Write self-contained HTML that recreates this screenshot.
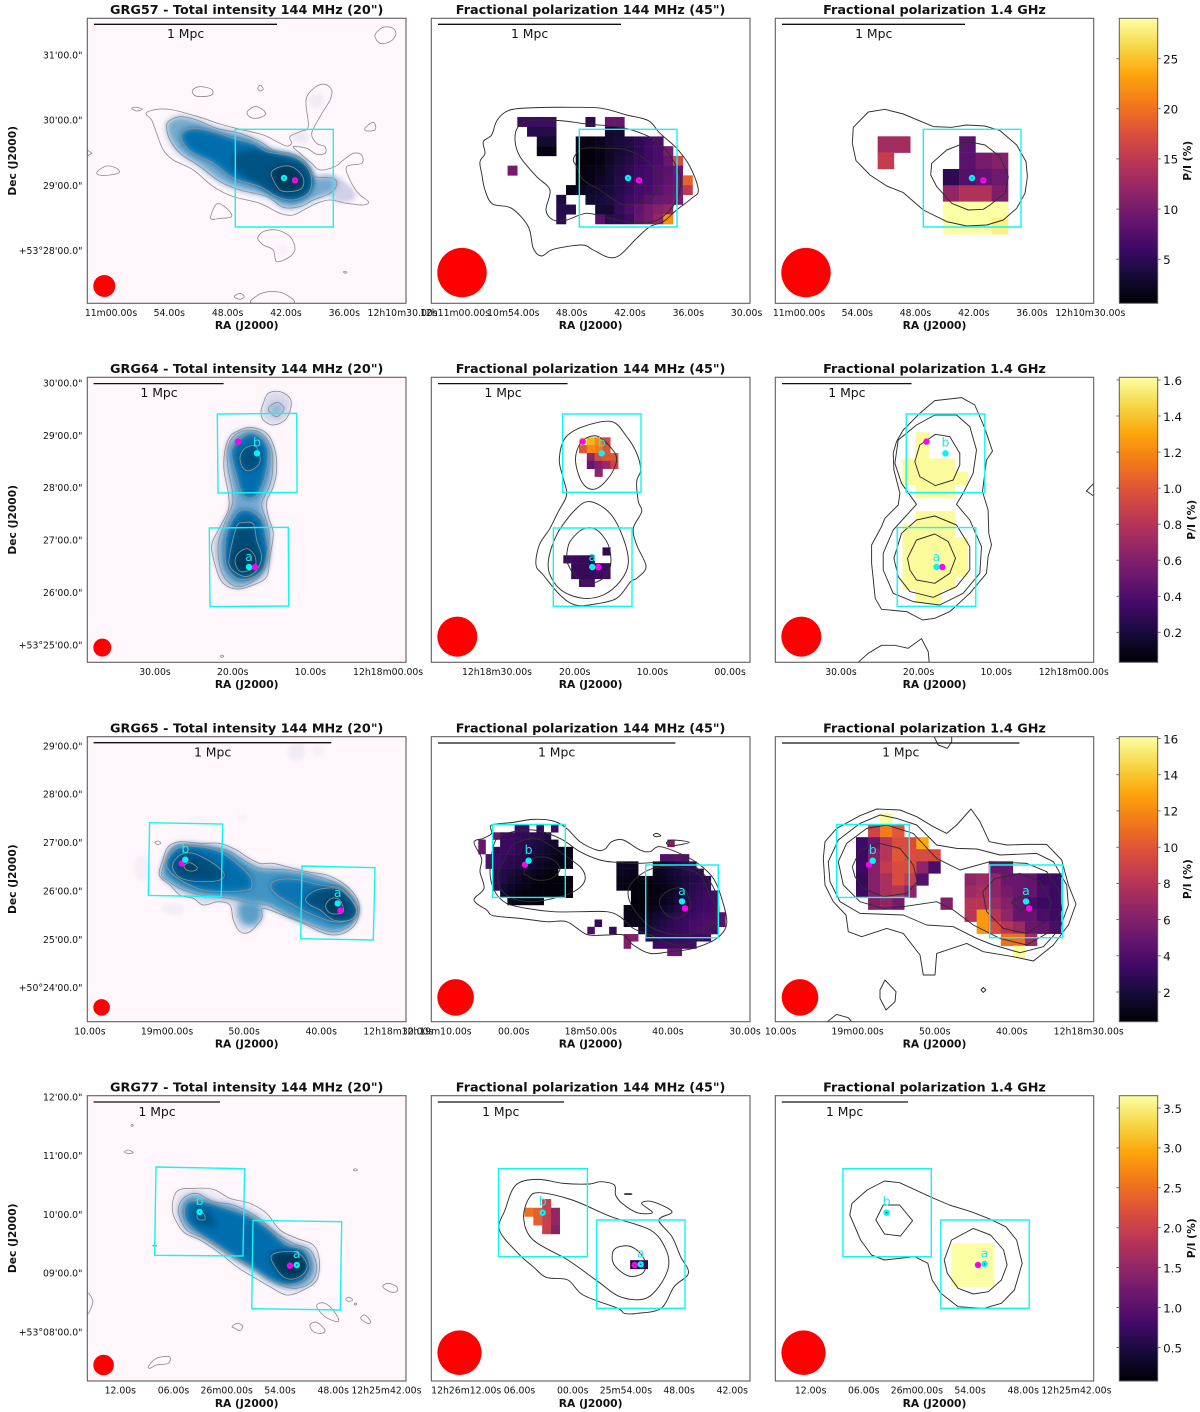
<!DOCTYPE html>
<html lang="en">
<head>
<meta charset="utf-8">
<title>GRG polarization maps</title>
<style>
html,body{margin:0;padding:0;background:#fff}
svg{display:block}
text{font-family:"DejaVu Sans","Liberation Sans",sans-serif;fill:#111}
</style>
</head>
<body>
<svg id="figure" xmlns="http://www.w3.org/2000/svg" width="1200" height="1412" viewBox="0 0 1200 1412">
<defs>
<filter id="soft2" x="-40%" y="-40%" width="180%" height="180%"><feGaussianBlur stdDeviation="2"/></filter>
<filter id="soft3" x="-40%" y="-40%" width="180%" height="180%"><feGaussianBlur stdDeviation="3.2"/></filter>
<filter id="soft4" x="-40%" y="-40%" width="180%" height="180%"><feGaussianBlur stdDeviation="3.2"/></filter>
</defs>
</svg>
<script>
/* ---------- tick data ---------- */
const raTicks57 = [60,54,48,42,36,30];
const raLabels57Outer = ['11m00.00s','54.00s','48.00s','42.00s','36.00s','12h10m30.00s'];
const raLabels57Mid = ['12h11m00.00s','10m54.00s','48.00s','42.00s','36.00s','30.00s'];
const decTicks57 = [31,30,29,28];
const decLabels57 = ['31\'00.0"','30\'00.0"','29\'00.0"','+53°28\'00.0"'];
const cbTicks57 = [5,10,15,20,25];
const cbLabels57 = ['5','10','15','20','25'];

const raTicks64 = [30,20,10,0];
const raLabels64Outer = ['30.00s','20.00s','10.00s','12h18m00.00s'];
const raLabels64Mid = ['12h18m30.00s','20.00s','10.00s','00.00s'];
const decTicks64 = [30,29,28,27,26,25];
const decLabels64 = ['30\'00.0"','29\'00.0"','28\'00.0"','27\'00.0"','26\'00.0"','+53°25\'00.0"'];
const cbTicks64 = [0.2,0.4,0.6,0.8,1.0,1.2,1.4,1.6];
const cbLabels64 = ['0.2','0.4','0.6','0.8','1.0','1.2','1.4','1.6'];

const raTicks65 = [70,60,50,40,30];
const raLabels65Outer = ['10.00s','19m00.00s','50.00s','40.00s','12h18m30.00s'];
const raLabels65Mid = ['12h19m10.00s','00.00s','18m50.00s','40.00s','30.00s'];
const decTicks65 = [29,28,27,26,25,24];
const decLabels65 = ['29\'00.0"','28\'00.0"','27\'00.0"','26\'00.0"','25\'00.0"','+50°24\'00.0"'];
const cbTicks65 = [2,4,6,8,10,12,14,16];
const cbLabels65 = ['2','4','6','8','10','12','14','16'];

const raTicks77 = [72,66,60,54,48,42];
const raLabels77Outer = ['12.00s','06.00s','26m00.00s','54.00s','48.00s','12h25m42.00s'];
const raLabels77Mid = ['12h26m12.00s','06.00s','00.00s','25m54.00s','48.00s','42.00s'];
const decTicks77 = [12,11,10,9,8];
const decLabels77 = ['12\'00.0"','11\'00.0"','10\'00.0"','09\'00.0"','+53°08\'00.0"'];
const cbTicks77 = [0.5,1.0,1.5,2.0,2.5,3.0,3.5];
const cbLabels77 = ['0.5','1.0','1.5','2.0','2.5','3.0','3.5'];

/* ---------- contours: [fill level (0 = line only), draw line, map-grid vertices u,v,...] ---------- */
const grg57TotalContours = [
[0.1,0,[930,290,965,280,965,320,935,320]],
[0.12,0,[880,400,920,395,920,425,885,425]],
[0.25,0,[960,530,1010,530,1060,570,1060,600,1000,600]],
[0.06,0,[835,740,860,740,860,760,835,760]],
[0,1,[438,340,470,328,520,330,600,352,660,372,720,388,790,405,830,425,860,438,875,430,870,410,900,395,925,380,918,300,945,262,975,253,995,270,990,300,960,350,935,400,950,430,975,440,975,460,950,463,920,445,880,440,900,460,935,490,960,510,1005,500,1030,480,1060,460,1085,465,1085,490,1040,500,1050,540,1075,580,1105,605,1090,615,1040,610,990,600,950,610,920,625,880,645,840,640,780,610,700,590,640,560,580,510,520,480,490,450,470,400,455,360]],
[0.5,1,[505,365,540,350,590,360,650,385,720,400,780,425,820,450,870,460,905,475,930,505,945,530,1000,535,1010,555,990,580,940,600,900,620,850,622,800,590,720,570,660,545,600,500,540,460,510,420,500,385]],
[0.76,1,[545,400,580,385,640,395,700,415,760,430,800,455,880,470,920,500,935,540,925,580,880,600,830,590,780,560,700,535,640,490,580,460,550,430]],
[0.9,0,[700,470,760,450,850,470,920,500,935,560,890,595,830,585,760,545,710,510]],
[1,1,[815,515,850,498,885,505,910,535,905,565,870,575,840,570,820,540]],
[0,1,[578,270,600,260,635,268,635,285,600,290,582,285]],
[0,1,[773,265,782,256,790,268,780,273]],
[0,1,[395,325,410,322,427,328,410,333]],
[0,1,[742,335,765,320,790,330,795,345,770,355,748,350]],
[0,1,[1095,385,1115,368,1125,372,1125,390,1100,393]],
[0,1,[1125,105,1150,82,1180,85,1187,105,1170,125,1140,130]],
[0,1,[262,450,276,460,262,468]],
[0,1,[292,515,320,498,350,505,357,518,330,525,297,525]],
[0,1,[632,655,650,612,680,625,695,650,660,655]],
[0,1,[773,715,790,695,830,690,870,710,885,745,870,770,830,785,820,750,790,735]],
[0,1,[703,890,720,880,733,890,720,898]],
[0,1,[757,910,775,885,810,875,850,880,880,910]],
[0,1,[1030,816,1036,815,1041,817,1036,820]]
];
const grg57Lofar45Contours = [
[0,1,[180,485,195,460,190,425,215,405,232,360,270,330,350,323,460,322,545,325,620,345,685,362,720,400,770,445,810,500,835,570,815,595,770,630,730,665,690,680,650,715,600,765,565,772,520,750,485,735,400,748,365,768,340,745,325,680,275,625,218,612,195,570,185,520]],
[0,1,[285,420,295,380,330,362,420,362,500,372,590,380,650,395,720,430,770,500,782,545,770,600,740,640,700,665,640,668,570,655,500,640,440,660,400,660,378,630,390,570,350,530,300,470]],
[0,1,[470,460,490,445,560,445,620,450,680,480,710,525,712,560,695,595,650,610,600,610,540,570,490,540,470,500,460,480]]
];
const grg57Hires14Contours = [
[0,1,[280,382,325,336,375,328,430,342,520,380,575,382,620,375,675,378,720,392,770,435,798,485,802,530,795,580,770,625,730,660,680,675,620,678,560,665,490,630,430,578,380,558,330,525,288,482,277,430]],
[0,1,[515,490,560,450,625,425,675,435,720,470,745,530,735,580,690,615,670,628,625,630,575,610,530,560,512,525]]
];
const grg64TotalContours = [
[0.2,1,[470,185,510,172,560,190,585,240,590,300,580,350,560,395,565,440,580,490,570,560,560,620,520,645,470,657,430,640,410,600,395,530,415,480,445,420,445,370,432,300,435,240,450,200]],
[0.5,1,[465,195,510,180,550,195,575,240,578,300,568,350,545,400,555,440,568,490,560,560,545,610,510,640,470,650,435,625,418,580,415,520,430,470,455,410,458,370,445,300,442,240]],
[0.76,1,[462,225,510,190,550,210,565,250,555,320,535,370,510,385,485,370,470,320,455,260]],
[0.78,1,[440,490,470,430,505,420,545,450,558,500,565,550,550,600,510,625,470,625,440,590,435,540]],
[0.92,1,[480,262,495,235,525,228,540,260,535,285,510,302,490,295]],
[0.93,1,[448,560,470,470,490,458,520,462,530,510,545,560,530,600,500,620,470,610,450,590]],
[1,1,[465,570,480,545,505,537,525,560,525,590,495,605,475,600]],
[0.2,1,[550,100,565,70,600,65,630,85,632,115,615,150,580,165,550,150,543,125]],
[0.42,1,[565,118,590,97,612,115,590,140]],
[0,1,[422,857,428,856,431,860,424,862]]
];
const grg64Lofar45Contours = [
[0,1,[418,285,435,220,490,185,575,170,620,215,650,265,662,315,650,350,655,410,665,440,640,490,650,540,678,605,650,640,632,650,590,700,520,718,465,720,420,690,370,630,348,600,358,540,390,490,415,440,440,390,430,340]],
[0,1,[385,590,410,510,465,435,510,410,570,445,610,520,625,595,600,650,550,690,490,700,430,680,395,640]],
[0,1,[440,575,450,530,490,492,530,495,565,540,572,600,550,640,505,655,465,630,445,600]],
[0,1,[470,260,490,225,530,213,570,245,590,280,575,325,540,365,510,372,485,350,468,300]]
];
const grg64Hires14Contours = [
[0,1,[380,215,400,180,450,130,495,92,575,83,615,105,645,175,668,243,650,270,638,365,655,420,657,490,665,525,655,560,650,610,600,670,540,725,495,745,458,750,410,725,335,718,316,685,305,580,305,525,335,470,345,445,385,405,390,370,372,300,370,250]],
[0,1,[440,403,395,340,375,280,385,210,440,165,495,135,560,135,600,170,620,240,610,310,580,370,560,403,600,450,635,530,630,610,580,670,510,705,430,695,370,670,340,600,340,550,370,480]],
[0,1,[372,565,395,490,440,450,495,438,560,465,600,530,600,600,560,650,490,682,420,665,385,620]],
[0,1,[413,565,440,510,495,492,535,515,557,565,540,610,495,640,440,630,420,600]],
[0,1,[435,275,450,225,497,193,540,200,570,250,570,285,550,330,497,347,450,320]],
[0,1,[972,340,950,363,972,378]],
[0,1,[265,877,295,850,335,826,375,826,415,835,455,806,475,845,478,877]]
];
const grg65TotalContours = [
[0.1,0,[630,30,670,30,670,70,630,70]],
[0.06,0,[700,35,730,35,730,60,700,60]],
[0.06,0,[165,370,205,370,205,430,170,430]],
[0.08,0,[250,510,305,510,305,540,250,530]],
[0.06,0,[480,240,500,240,500,255,480,255]],
[0.05,0,[330,250,380,250,380,262,330,262]],
[0.18,1,[238,420,250,370,265,335,300,320,360,325,420,325,470,345,500,365,540,385,580,385,640,400,680,410,740,420,790,445,825,480,838,515,830,560,800,590,760,600,720,590,680,570,620,545,550,520,545,550,510,590,480,590,460,555,450,510,415,500,370,510,340,490,300,480,270,450]],
[0.55,0,[475,510,510,500,545,515,535,565,500,570,480,555]],
[0.6,1,[245,420,255,380,275,340,310,328,380,335,440,345,490,375,540,400,620,405,700,420,780,450,815,485,830,515,820,560,790,585,750,590,690,570,630,545,560,510,510,505,450,490,360,480,300,460,260,435]],
[0.76,1,[260,380,285,345,310,335,360,335,420,350,470,385,510,425,515,455,500,465,440,470,370,465,310,440,270,410]],
[0.74,1,[572,450,600,433,660,435,720,450,780,460,820,500,830,530,810,555,760,560,700,540,640,510,590,480]],
[0.92,1,[278,390,300,360,340,355,400,385,432,415,420,435,370,440,320,435,290,420]],
[0.92,1,[677,490,710,465,770,460,810,490,830,530,810,555,760,555,720,525,690,510]],
[1,1,[312,392,330,383,352,398,340,408,320,405]],
[1,1,[737,510,755,490,780,495,790,530,765,537,745,530]],
[0,1,[225,322,235,318,243,325,232,328]]
];
const grg65Lofar45Contours = [
[0,1,[162,352,190,340,215,325,215,300,280,292,340,283,400,288,440,310,480,350,530,375,555,372,575,350,610,345,660,375,690,380,720,365,790,390,840,420,880,460,905,520,920,595,890,640,820,670,750,680,690,685,640,660,610,630,560,630,500,628,440,590,380,590,300,580,220,572,200,555,162,525,192,490,180,440,185,400]],
[0,1,[225,350,260,325,340,315,420,340,480,380,540,405,590,412,650,415,720,410,770,395,820,420,870,470,895,530,890,600,850,640,770,660,690,630,640,610,600,575,560,560,480,560,400,560,320,550,260,535,225,500,210,440]],
[0,1,[250,410,280,360,340,340,390,360,440,395,485,430,495,465,470,495,420,515,340,530,280,520,240,490,235,440]],
[0,1,[312,440,340,400,390,400,420,430,395,460,350,465,320,450]],
[0,1,[625,495,640,550,700,610,790,630,860,610,890,560,865,500,840,450,790,430,720,425,660,450]],
[0,1,[718,530,745,497,790,490,810,530,810,550,780,578,740,570]],
[0,1,[700,330,710,325,722,332,708,335]],
[0,1,[740,352,760,345,808,352,760,362,745,360]]
];
const grg65Hires14Contours = [
[0,1,[195,350,230,310,300,272,350,252,420,255,470,275,520,305,560,325,590,300,633,252,660,290,688,350,740,360,800,358,860,358,905,405,925,480,948,537,925,600,880,660,820,708,760,695,670,680,620,655,530,685,525,750,490,750,480,690,430,625,380,610,305,635,265,620,258,570,220,530,195,480,190,400]],
[0,1,[205,410,235,345,300,295,360,270,410,280,470,300,530,360,590,370,650,372,720,390,830,385,880,410,920,480,925,540,900,610,850,665,780,683,700,660,650,640,580,605,500,600,430,570,300,565,240,530,210,470]],
[0,1,[235,410,260,355,320,310,380,300,460,325,530,400,600,435,690,410,800,415,860,440,900,500,905,555,870,620,800,660,720,640,640,600,580,555,530,530,430,545,370,550,300,530,250,480]],
[0,1,[277,425,300,375,360,355,420,370,460,420,472,470,440,505,370,515,310,490,285,455]],
[0,1,[668,500,705,460,780,445,840,470,875,535,855,590,800,625,730,610,680,560]],
[0,1,[755,533,780,512,805,538,783,558]],
[0,1,[375,765,408,800,405,830,378,855,360,820,360,795]],
[0,1,[670,787,678,795,670,802,663,795]],
[0,1,[522,35,535,60,562,70,575,50,575,35]],
[0,1,[202,890,230,868,265,878,275,890]]
];
const grg77TotalContours = [
[0.1,1,[278,365,290,305,340,295,400,298,450,325,510,340,560,370,600,420,650,445,700,465,718,510,710,570,670,600,620,615,570,590,510,555,470,530,420,490,360,450,310,425]],
[0.48,1,[295,365,310,325,350,310,400,335,460,345,530,380,590,430,640,460,690,480,710,530,695,575,650,595,600,585,540,550,490,520,440,490,370,445,320,420]],
[0.76,1,[313,365,325,335,375,335,440,355,510,380,570,420,620,465,670,480,690,530,670,570,620,585,570,570,520,535,470,505,410,465,350,425,320,395]],
[0.88,0,[340,355,380,360,410,400,380,410,345,395]],
[1,1,[573,500,595,487,650,487,680,520,672,550,640,567,610,560,585,530]],
[0.88,1,[352,372,370,370,375,388,355,388]],
[0,1,[133,186,145,180,160,188,145,190]],
[0,1,[820,240,826,236,832,240,826,243]],
[0,1,[908,590,925,580,950,590,950,605,930,605]],
[0,1,[797,627,808,622,818,630,806,634]],
[0,1,[842,685,855,675,872,695,862,700]],
[0,1,[710,650,725,638,750,650,775,685,770,695,735,680]],
[0,1,[690,705,710,697,735,720,725,730,700,725]],
[0,1,[456,710,472,700,488,708,480,722,465,715]],
[0,1,[206,828,230,805,268,800,265,820,230,825,210,835]],
[0,1,[22,610,38,630,35,650,22,670]],
[0,1,[153,106,156,103,160,106,156,109]],
[0,1,[822,642,826,639,830,642,826,645]],
[0,1,[218,467,224,465,230,467,224,469]]
];
const grg77Lofar45Contours = [
[0,1,[172,420,185,360,210,285,260,268,320,280,380,282,405,275,437,285,440,315,455,340,490,368,525,368,500,340,525,335,570,365,540,390,570,440,590,500,608,550,575,590,545,655,490,670,460,670,445,655,365,615,330,570,280,562,250,530,215,490]],
[0,1,[228,385,240,325,265,308,340,330,430,380,520,420,555,475,562,530,540,590,505,627,450,620,400,575,330,510,250,450]],
[0,1,[432,500,440,475,470,468,497,490,510,525,500,552,470,558,440,530]],
[0,1,[462,311,476,311,476,313,462,313]]
];
const grg77Hires14Contours = [
[0,1,[980,375,985,340,1020,300,1060,273,1095,278,1165,320,1210,345,1260,365,1300,385,1340,410,1365,450,1378,520,1360,600,1330,640,1290,655,1230,650,1190,610,1170,570,1160,520,1130,500,1060,510,1030,495,1005,450]],
[0,1,[1198,510,1215,450,1265,415,1305,435,1335,480,1343,525,1330,570,1300,605,1265,612,1230,595,1205,550]],
[0,1,[1040,390,1057,345,1095,345,1125,392,1097,438,1060,432]]
];

/* ---------- fractional polarization cells: [grid row, first grid column, P/I values in %] ---------- */
const grg57Lofar45Cells = [
[0,0,[6,6,6,6]],[0,7,[5]],[0,9,[9,9]],
[1,1,[4.5,4.5,4.5]],[1,9,[3,3]],
[2,2,[3,3]],[2,6,[1.5,1.5,2,3,3.5,4,5,6,7]],
[3,2,[1.5,1.5]],[3,6,[1,1,1.5,2.5,3,4,5,6,7,10]],
[4,6,[1,1,1.5,2.5,3.5,4.5,5.5,6,7,9,17]],
[5,-1,[10]],[5,6,[1,1.5,2,3,4,5,6,6.5,7.5,8,9]],
[6,6,[1,1.5,2.5,3,4.5,5.5,6,6.5,7.5,8.5,9]],[6,17,[19]],
[7,5,[1.5,2,2.5,3,3.5,4.5,5.5,6.5,7,8,9,9.5]],[7,17,[15]],
[8,4,[4]],[8,7,[3,3.5,4,5,6,7,8,9,9.5,10]],
[9,4,[4.5,4.5]],[9,8,[3,3,5.5,7,8.5,10,11,12]],
[10,4,[5]],[10,8,[8,5,5,6,9,10,12,22]]
];
const grg57Hires14Cells = [
[0,0,[13,13]],[0,5,[8]],
[1,0,[15.5]],[1,5,[8,10,11]],
[2,4,[5,7.5,8.5,9.5]],
[3,4,[12,14,14,10.5]],
[4,4,[29,29,29,29]],
[5,4,[29,29,29,28]]
];
const grg64Lofar45Cells = [
[0,2,[1.55,1.35,1.2,0.95]],
[1,2,[1.0,1.2,1.15,1.0]],
[2,3,[0.65,0.95,1.0,1.0]],
[3,3,[0.5,0.6,0.7,0.9]],
[4,4,[0.65]],
[14,5,[0.28]],
[15,0,[0.33,0.32,0.3,0.3]],
[16,1,[0.32,0.3,0.28,0.3,0.33]],
[17,1,[0.32,0.3,0.3,0.32,0.35]],
[18,2,[0.38,0.38]]
];
const grg64Hires14Cells = [
[0,1,[1.6]],[1,1,[1.6]],
[2,0,[1.6,1.6,1.6,1.6]],
[3,0,[1.6,1.6,1.6,1.6,1.6]],
[4,1,[1.6,1.6,1.6]],
[6,1,[1.6,1.6,1.6]],
[7,0,[1.6,1.6,1.6,1.6]],
[8,0,[1.6,1.6,1.6,1.6,1.6]],
[9,0,[1.6,1.6,1.6,1.6,1.6]],
[10,0,[1.6,1.6,1.6,1.6,1.6]],
[11,0,[1.6,1.6,1.6,1.6]],
[12,1,[1.6,1.6]]
];
const grg65Lofar45Cells = [
[0,5,[3.5,3.5]],[0,8,[3]],[0,10,[3.5]],
[1,2,[5]],[1,3,[3.2,3.2,3,2.8,2.8,2.6,2.4]],
[2,0,[5]],[2,3,[3.2,3.2,2.8,2.6,2.4,2,1.8,1.6]],[2,26,[6]],
[3,0,[5]],[3,2,[3,3.2,3.2,2.8,2.4,2.2,1.9,1.6,1.3,1.1,0.9]],
[4,1,[4,3.4,3,2.8,2.6,2.3,1.9,1.6,1.4,1.1,0.9,0.9]],[4,25,[4.2,4.2,4.5,4.2]],
[5,1,[4,3.4,2.8,2.6,2.3,1.9,1.6,1.4,1.1,0.9,0.8,0.8]],[5,19,[1.3,1.2,1.2]],[5,24,[1.3,1.7,2,2.4,2.8,2.8]],
[6,2,[2.8,2.4,2.1,1.8,1.5,1.2,1,0.8,0.7]],[6,19,[1.2,1.1,1.1]],[6,24,[1.1,1.3,1.7,2,2.4,2.8,2.8]],
[7,2,[2.8,2.3,1.8,1.5,1.1,0.9,0.7,0.6,0.6,0.6,0.6]],[7,19,[0.9,0.9,0.7,0.7,0.7,0.9,1.1,1.4,1.7,2,2.4,2.6,2.8]],
[8,2,[2.8,1.8,1.4,1.1,0.9,0.7,0.6,0.6,0.6,0.6,0.6]],[8,19,[0.9,0.8,0.6,0.6,0.6,0.8,0.9,1.2,1.7,2.2,2.6,2.8,3]],
[9,3,[1.6,1.2,0.9,0.7,0.6,0.6,0.6,0.6,0.6,0.6]],[9,21,[0.6,0.6,0.6,0.8,1,1.3,1.8,2.4,2.8,3,3.3,3.5]],
[10,4,[1.1,0.9,0.8,0.7,0.6]],[10,21,[0.6,0.6,0.7,0.9,1.1,1.4,2,2.5,2.9,3.2,3.4,3.6]],
[11,20,[0.9,0.7,0.7,0.9,1.1,1.4,1.8,2.4,2.8,3,3.3,3.5,3.7]],
[12,20,[1,0.9,0.9,1.3,1.7,2,2.4,2.8,3.2,3.4,3.6,3.7,3.8,4.5]],
[13,16,[3]],[13,20,[1.1,1,1.1,1.6,2,2.4,2.8,3,3.2,3.6,3.8,4,4,4.5]],
[14,15,[4]],[14,18,[3]],[14,22,[1.7,2,2.4,2.6,2.9,3,3.3,3.7,4,4,3.7]],
[15,20,[6,6]],[15,23,[2.4,2.6,2.9,2.9,3,3.2,3.3,3.3,3.3]],
[16,20,[6]],[16,24,[3.4,3.4,3.4,3.4,3.4,3.4]],
[17,26,[5,5]]
];
const grg65Hires14Cells = [
[0,2,[16]],
[1,1,[9,11.5,10]],
[2,0,[3.3,5,8,9.5,9.5,13]],
[3,0,[3.3,6,8,10,9.5,9.5,9.5]],
[4,0,[3.3,6,8.5,9.5,9.5,6.5,3.8]],[4,11,[5,5]],
[5,0,[3,6,7.5,9.5,8.5,4.2]],[5,9,[6.5,7,6.5,5,5,4.8,3.3,3.3]],
[6,0,[3.3,6,7.5,8,6.5]],[6,9,[7,7.5,6.5,5.5,5,4.8,3.8,3.3]],
[7,1,[6,6.5,5.5]],[7,7,[6]],[7,9,[8,8,7,6,4.8,3.8,3.3,3.3]],
[8,9,[8,12.5,8,6.5,4.8,4.8,3.8,3.3]],
[9,10,[12.5,9.5,8,7,5,4.8,3.8]],
[10,12,[11,11,7]],
[11,13,[16]]
];
const grg77Lofar45Cells = [
[0,2,[2.0]],
[1,0,[2.5,2.35,2.0,1.5]],
[2,1,[2.35,2.0,1.5]],
[3,2,[2.0,1.4]],
[7,12,[0.5,0.6]]
];
const grg77Hires14Cells = [
[0,0,[3.65]]
];

/* ---------- lobe boxes (four corners in map-grid units) ---------- */
const grg57Boxes = [[706,388,1000,388,1000,681,706,681]];
const grg57BoxesL = [[478,388,771,388,771,681,478,681]];
const grg57BoxesH = [[490,388,783,388,783,681,490,681]];
const grg64BoxesI = [[412,132,650,130,651,367,414,369],[388,474,625,472,626,708,390,710]];
const grg64BoxesL = [[428,147,663,147,663,382,428,382],[400,489,636,489,636,724,400,724]];
const grg64BoxesH = [[409,132,645,132,645,368,409,368],[382,473,618,473,618,709,382,709]];
const grg65BoxesI = [[209,263,428,267,424,485,205,481],[666,393,885,398,880,615,662,611]];
const grg65BoxesL = [[218,298,436,298,436,517,218,517],[677,420,895,420,895,638,677,638]];
const grg65BoxesH = [[230,298,448,298,448,517,230,517],[689,420,908,420,908,638,689,638]];
const grg77BoxesI = [[228,231,494,236,489,498,224,496],[519,391,785,395,781,660,515,656]];
const grg77BoxesL = [[170,236,375,236,375,500,170,500],[396,390,600,390,600,655,396,655]];
const grg77BoxesH = [[964,236,1168,236,1168,500,964,500],[1190,390,1394,390,1394,655,1190,655]];

/* ---------- optical hosts: [label, cyan u, cyan v, magenta u, magenta v, label u, label v] ---------- */
const grg57Hosts = [['',852,534,885,541,0,0]];
const grg57HostsL = [['',624,534,657,541,0,0]];
const grg57HostsH = [['',636,534,670,541,0,0]];
const grg64HostsI = [['b',531,250,474,215,531,217],['a',507,591,525,591,507,560]];
const grg64HostsL = [['b',545,265,488,230,545,232],['a',517,606,535,606,517,575]];
const grg64HostsH = [['b',527,250,470,215,527,217],['a',500,591,517,591,500,560]];
const grg65HostsI = [['b',316,374,305,385,316,342],['a',773,505,781,526,773,473]];
const grg65HostsL = [['b',326,407,315,419,326,375],['a',786,529,795,550,786,497]];
const grg65HostsH = [['b',338,407,327,419,338,375],['a',798,529,807,550,798,497]];
const grg77HostsI = [['b',359,366,null,null,359,333],['a',650,525,630,527,650,492]];
const grg77HostsL = [['b',272,368,null,null,272,334],['a',498,523,484,525,498,490]];
const grg77HostsH = [['b',1065,368,null,null,1065,334],['a',1291,522,1276,525,1291,490]];

/* ---------- colour maps ---------- */
const infernoStops = ['#000004','#160b39','#420a68','#6a176e','#932667','#bc3754','#dd513a','#f37819','#fca50a','#f6d746','#fcffa4'];
const pubuStops = ['#fff7fb','#ece7f2','#d0d1e6','#a6bddb','#74a9cf','#3690c0','#0570b0','#045a8d','#023858'];
function rgb(h){return [parseInt(h.substr(1,2),16),parseInt(h.substr(3,2),16),parseInt(h.substr(5,2),16)];}
function colormap(stops,t){
  t=Math.max(0,Math.min(1,t));
  const p=t*(stops.length-1), i=Math.min(stops.length-2,Math.floor(p)), f=p-i;
  const a=rgb(stops[i]), b=rgb(stops[i+1]);
  return 'rgb('+[0,1,2].map(k=>Math.round(a[k]+(b[k]-a[k])*f)).join(',')+')';
}

/* ---------- layout ---------- */
const columnEdges = [[87.3,406],[431.3,750],[775.3,1093.7]];
const colorbarEdges = [1119.3,1157.7];
const rowEdges = [[18.3,303.3],[377.3,662.3],[736.7,1021.7],[1095.7,1381]];

const figureRows = [
 {name:'grg57', title:'GRG57 - Total intensity 144 MHz (20")', decRange:[31.563,27.194], decTicks:decTicks57, decLabels:decLabels57,
  cbRange:[0.6,29.03], cbTicks:cbTicks57, cbLabels:cbLabels57, cbTitleX:1191, pinned:true, raTicks:raTicks57,
  panels:[
   {kind:'i', u:[262,1218], v:[55,910], ra:[62.44,29.65], raLabels:raLabels57Outer, contours:grg57TotalContours, boxes:grg57Boxes, hosts:grg57Hosts, bar:[282,831,73], mpc:[557,100], beam:[313,858,33,33]},
   {kind:'l', u:[34,990], v:[55,910], ra:[62.44,29.65], raLabels:raLabels57Mid, contours:grg57Lofar45Contours, cells:grg57Lofar45Cells, grid:[292,351,29.2,29.2], boxes:grg57BoxesL, hosts:grg57HostsL, bar:[54,603,73], mpc:[329,100], beam:[126,818,74,74]},
   {kind:'h', u:[46,1001], v:[55,910], ra:[62.44,29.65], raLabels:raLabels57Outer, contours:grg57Hires14Contours, cells:grg57Hires14Cells, grid:[353,409,48.9,49], boxes:grg57BoxesH, hosts:grg57HostsH, bar:[66,615,73], mpc:[341,100], beam:[138,818,74,74]}
  ]},
 {name:'grg64', title:'GRG64 - Total intensity 144 MHz (20")', decRange:[30.109,24.67], decTicks:decTicks64, decLabels:decLabels64,
  cbRange:[0.0335,1.615], cbTicks:cbTicks64, cbLabels:cbLabels64, cbTitleX:1195, pinned:false, raTicks:raTicks64,
  panels:[
   {kind:'i', u:[22,978], v:[22,877], ra:[38.71,-2.31], raLabels:raLabels64Outer, contours:grg64TotalContours, boxes:grg64BoxesI, hosts:grg64HostsI, bar:[41,431,41], mpc:[237,68], beam:[67,833,27,27]},
   {kind:'l', u:[34,990], v:[37,892], ra:[38.46,-2.56], raLabels:raLabels64Mid, contours:grg64Lofar45Contours, cells:grg64Lofar45Cells, grid:[430,217,23.5,23.6], boxes:grg64BoxesL, hosts:grg64HostsL, bar:[54,443,56], mpc:[249,83], beam:[112,815,60,60]},
   {kind:'h', u:[16,972], v:[22,877], ra:[38.46,-2.56], raLabels:raLabels64Outer, contours:grg64Hires14Contours, cells:grg64Hires14Cells, grid:[398,187,39.2,39.4], boxes:grg64BoxesH, hosts:grg64HostsH, bar:[36,425,41], mpc:[231,68], beam:[94,800,60,60]}
  ]},
 {name:'grg65', title:'GRG65 - Total intensity 144 MHz (20")', decRange:[29.19,23.30], decTicks:decTicks65, decLabels:decLabels65,
  cbRange:[0.36,16.1], cbTicks:cbTicks65, cbLabels:cbLabels65, cbTitleX:1191, pinned:false, raTicks:raTicks65,
  panels:[
   {kind:'i', u:[22,978], v:[5,860], ra:[70.34,29.0], raLabels:raLabels65Outer, contours:grg65TotalContours, boxes:grg65BoxesI, hosts:grg65HostsI, bar:[41,754,23], mpc:[398,51], beam:[65,817,25,25]},
   {kind:'l', u:[34,990], v:[35,890], ra:[70.69,29.35], raLabels:raLabels65Mid, contours:grg65Lofar45Contours, cells:grg65Lofar45Cells, grid:[175,300,21.8,21.8], boxes:grg65BoxesL, hosts:grg65HostsL, bar:[54,766,54], mpc:[410,81], beam:[107,817,55,55]},
   {kind:'h', u:[46,1001], v:[35,890], ra:[70.69,29.35], raLabels:raLabels65Outer, contours:grg65Hires14Contours, cells:grg65Hires14Cells, grid:[288,264,36.2,36.2], boxes:grg65BoxesH, hosts:grg65HostsH, bar:[66,778,54], mpc:[422,81], beam:[120,817,55,55]}
  ]},
 {name:'grg77', title:'GRG77 - Total intensity 144 MHz (20")', decRange:[12.022,7.166], decTicks:decTicks77, decLabels:decLabels77,
  cbRange:[0.08,3.654], cbTicks:cbTicks77, cbLabels:cbLabels77, cbTitleX:1195, pinned:true, raTicks:raTicks77,
  panels:[
   {kind:'i', u:[22,978], v:[17,873], ra:[75.72,39.79], raLabels:raLabels77Outer, contours:grg77TotalContours, boxes:grg77BoxesI, hosts:grg77HostsI, bar:[41,420,36], mpc:[231,64], beam:[71,825,31,31]},
   {kind:'l', u:[15,750], v:[17,873], ra:[75.94,40.01], raLabels:raLabels77Mid, contours:grg77Lofar45Contours, cells:grg77Lofar45Cells, grid:[230,327,20.3,26.2], boxes:grg77BoxesL, hosts:grg77HostsL, bar:[30,321,36], mpc:[175,64], beam:[80,788,51,67]},
   {kind:'h', u:[808,1543], v:[17,873], ra:[75.98,40.05], raLabels:raLabels77Outer, contours:grg77Hires14Contours, cells:grg77Hires14Cells, grid:[1214,459,99,131], boxes:grg77BoxesH, hosts:grg77HostsH, bar:[823,1114,36], mpc:[968,64], beam:[873,788,51,67]}
  ]}
];
const panelTitles = {l:'Fractional polarization 144 MHz (45")', h:'Fractional polarization 1.4 GHz'};

/* ---------- drawing ---------- */
const NS = 'http://www.w3.org/2000/svg';
const figure = document.getElementById('figure');
function make(tag, attrs, parent){
  const el = document.createElementNS(NS, tag);
  for (const k in attrs) el.setAttribute(k, attrs[k]);
  parent.appendChild(el);
  return el;
}
function linear(d0,d1,r0,r1){ return v => r0 + (v-d0)*(r1-r0)/(d1-d0); }
function toPoints(flat){ const out=[]; for(let i=0;i<flat.length;i+=2) out.push([flat[i],flat[i+1]]); return out; }
function polyPath(flat,sx,sy,smooth){
  const p = toPoints(flat).map(q=>[sx(q[0]),sy(q[1])]);
  const n = p.length;
  if(!smooth || n<4) return 'M'+p.map(q=>q[0].toFixed(1)+' '+q[1].toFixed(1)).join('L')+'Z';
  let d='M'+p[0][0].toFixed(1)+' '+p[0][1].toFixed(1);
  for(let i=0;i<n;i++){
    const a=p[(i-1+n)%n], b=p[i], c=p[(i+1)%n], e=p[(i+2)%n];
    d+='C'+(b[0]+(c[0]-a[0])/6).toFixed(1)+' '+(b[1]+(c[1]-a[1])/6).toFixed(1)+' '+
        (c[0]-(e[0]-b[0])/6).toFixed(1)+' '+(c[1]-(e[1]-b[1])/6).toFixed(1)+' '+
        c[0].toFixed(1)+' '+c[1].toFixed(1);
  }
  return d+'Z';
}
function softFilter(t){ return t<0.3?'url(#soft2)':(t<0.8?'url(#soft3)':'url(#soft4)'); }

figureRows.forEach((row,ri)=>{
  const top=rowEdges[ri][0], bottom=rowEdges[ri][1];
  const decY=linear(row.decRange[0],row.decRange[1],top,bottom);

  row.panels.forEach((p,ci)=>{
    const left=columnEdges[ci][0], right=columnEdges[ci][1];
    const sx=linear(p.u[0],p.u[1],left,right);
    const sy=linear(p.v[0],p.v[1],top,bottom);
    const raX=linear(p.ra[0],p.ra[1],left,right);
    const id=row.name+'-'+p.kind;

    const g=make('g',{},figure);
    
    

    const clip=make('clipPath',{id:'clip-'+id},g);
    make('rect',{x:left,y:top,width:right-left,height:bottom-top},clip);

    const bg=make('rect',{x:left,y:top,width:right-left,height:bottom-top,fill:p.kind==='i'?'#fff7fb':'#fff'},g);
    
    

    const inner=make('g',{'clip-path':'url(#clip-'+id+')'},g);

    if(p.cells){
      const vmin=row.cbRange[0], vmax=row.cbRange[1];
      const cellX=linear(0,1,p.grid[0],p.grid[0]+p.grid[2]);
      const cellY=linear(0,1,p.grid[1],p.grid[1]+p.grid[3]);
      p.cells.forEach(rec=>{
        rec[2].forEach((val,k)=>{
          const x0=sx(cellX(rec[1]+k)), x1=sx(cellX(rec[1]+k+1));
          const y0=sy(cellY(rec[0])), y1=sy(cellY(rec[0]+1));
          const cell=make('rect',{x:x0.toFixed(2),y:y0.toFixed(2),width:(x1-x0+0.25).toFixed(2),height:(y1-y0+0.25).toFixed(2),fill:colormap(infernoStops,(val-vmin)/(vmax-vmin))},inner);
          
          
        });
      });
    }

    if(p.kind==='i'){
      p.contours.filter(c=>c[0]>0).forEach(c=>{
        const fill=make('path',{d:polyPath(c[2],sx,sy,true),fill:colormap(pubuStops,c[0]),filter:softFilter(c[0])},inner);
        
        
      });
    }
    p.contours.filter(c=>c[1]).forEach(c=>{
      const line=make('path',{d:polyPath(c[2],sx,sy,p.kind!=='h'),fill:'none',stroke:p.kind==='i'?'#8f8f93':'#2e2e2e','stroke-width':p.kind==='i'?0.85:0.95,'stroke-linejoin':'round'},inner);
      
      
    });

    p.boxes.forEach(b=>{
      const poly=make('polygon',{points:toPoints(b).map(q=>sx(q[0]).toFixed(1)+','+sy(q[1]).toFixed(1)).join(' '),fill:'none',stroke:'#11f5f5','stroke-width':1.4},inner);
      
      
    });

    p.hosts.forEach(h=>{
      if(h[3]!==null){
        const mag=make('circle',{cx:sx(h[3]).toFixed(1),cy:sy(h[4]).toFixed(1),r:3.2,fill:'#ff00f0'},inner);
        
        
        if(row.pinned){
          const pinM=make('circle',{cx:sx(h[3]).toFixed(1),cy:sy(h[4]).toFixed(1),r:0.7,fill:'#444'},inner);
          
          
        }
      }
      const cy=make('circle',{cx:sx(h[1]).toFixed(1),cy:sy(h[2]).toFixed(1),r:3.2,fill:'#00f5f5'},inner);
      
      
      if(row.pinned){
        const pinC=make('circle',{cx:sx(h[1]).toFixed(1),cy:sy(h[2]).toFixed(1),r:0.7,fill:'#335'},inner);
        
        
      }
      if(h[0]){
        const tag=make('text',{x:sx(h[5]).toFixed(1),y:(sy(h[6])+4.2).toFixed(1),'text-anchor':'middle','font-size':12.5,style:'fill:#2ae6ea'},inner);
        tag.textContent=h[0];
        
        
      }
    });

    const bar=make('line',{x1:sx(p.bar[0]).toFixed(1),x2:sx(p.bar[1]).toFixed(1),y1:sy(p.bar[2]).toFixed(1),y2:sy(p.bar[2]).toFixed(1),stroke:'#111','stroke-width':1.3},inner);
    
    

    const mpc=make('text',{x:sx(p.mpc[0]).toFixed(1),y:(sy(p.mpc[1])+4.6).toFixed(1),'text-anchor':'middle','font-size':12.4},inner);
    mpc.textContent='1 Mpc';
    
    

    const beam=make('ellipse',{cx:sx(p.beam[0]).toFixed(1),cy:sy(p.beam[1]).toFixed(1),rx:(p.beam[2]*(right-left)/(p.u[1]-p.u[0])).toFixed(1),ry:(p.beam[3]*(bottom-top)/(p.v[1]-p.v[0])).toFixed(1),fill:'#ff0000'},inner);
    
    

    const frame=make('rect',{x:left,y:top,width:right-left,height:bottom-top,fill:'none',stroke:'#5e5e5e','stroke-width':1.1},g);
    
    

    const title=make('text',{x:((left+right)/2).toFixed(1),y:top-4.4,'text-anchor':'middle','font-size':12.8,'font-weight':'700'},g);
    title.textContent=p.kind==='i'?row.title:panelTitles[p.kind];
    
    

    row.raTicks.forEach((val,k)=>{
      const lab=make('text',{x:raX(val).toFixed(1),y:bottom+12.6,'text-anchor':'middle','font-size':9.3},g);
      lab.textContent=p.raLabels[k];
      
      
    });
    const raTitle=make('text',{x:((left+right)/2).toFixed(1),y:bottom+25.8,'text-anchor':'middle','font-size':10.7,'font-weight':'700'},g);
    raTitle.textContent='RA (J2000)';
    
    

    if(ci===0){
      row.decTicks.forEach((val,k)=>{
        const lab=make('text',{x:82.4,y:(decY(val)+3.4).toFixed(1),'text-anchor':'end','font-size':9.3},g);
        lab.textContent=row.decLabels[k];
        
        
      });
      const cyMid=(top+bottom)/2;
      const decTitle=make('text',{x:0,y:0,transform:'translate(15.8 '+cyMid.toFixed(1)+') rotate(-90)','text-anchor':'middle','font-size':10.7,'font-weight':'700'},g);
      decTitle.textContent='Dec (J2000)';
      
      
    }
  });

  /* colour bar */
  const cb=make('g',{},figure);
  
  
  const gradId='grad-'+row.name;
  const grad=make('linearGradient',{id:gradId,x1:0,x2:0,y1:1,y2:0},cb);
  infernoStops.forEach((c,k)=>{
    make('stop',{offset:(k/(infernoStops.length-1)),'stop-color':c},grad);
  });
  const cbL=colorbarEdges[0], cbR=colorbarEdges[1];
  const cbY=linear(row.cbRange[0],row.cbRange[1],bottom,top);
  const ramp=make('rect',{x:cbL,y:top,width:cbR-cbL,height:bottom-top,fill:'url(#'+gradId+')',stroke:'#5e5e5e','stroke-width':1},cb);
  
  
  row.cbTicks.forEach((val,k)=>{
    const y=cbY(val).toFixed(1);
    const t1=make('line',{x1:cbL-3,x2:cbL,y1:y,y2:y,stroke:'#555','stroke-width':0.8},cb);
    
    
    const t2=make('line',{x1:cbR,x2:cbR+3,y1:y,y2:y,stroke:'#555','stroke-width':0.8},cb);
    
    
    const lab=make('text',{x:cbR+5.4,y:(cbY(val)+4.8).toFixed(1),'font-size':11.9},cb);
    lab.textContent=row.cbLabels[k];
    
    
  });
  const cbTitle=make('text',{x:0,y:0,transform:'translate('+row.cbTitleX+' '+((top+bottom)/2).toFixed(1)+') rotate(-90)','text-anchor':'middle','font-size':10.7,'font-weight':'700'},cb);
  cbTitle.textContent='P/I (%)';
  
  
});
</script>
</body>
</html>
